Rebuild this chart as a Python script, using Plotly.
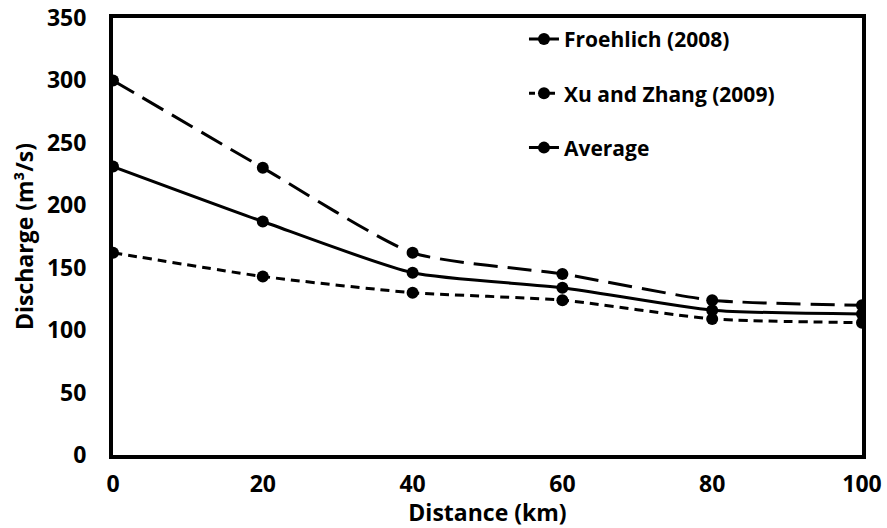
import plotly.graph_objects as go

distance = [0, 20, 40, 60, 80, 100]
froehlich = [300, 230, 162, 145, 124, 120]
xu_zhang = [162, 143, 130, 124, 109, 106]
average = [231, 187, 146, 134, 116, 113]

x_ticks = [0, 20, 40, 60, 80, 100]
y_ticks = [0, 50, 100, 150, 200, 250, 300, 350]

FONT = "Open Sans"
fig = go.Figure()

marker = dict(symbol="circle", size=12, color="black")

fig.add_trace(go.Scatter(x=distance, y=froehlich, mode="lines+markers", line=dict(color="black", width=3, dash="24px,10px", shape="spline", smoothing=0.6),
                         marker=marker, showlegend=False, name="Froehlich (2008)"))
fig.add_trace(go.Scatter(x=distance, y=xu_zhang, mode="lines+markers", line=dict(color="black", width=3, dash="9px,6px", shape="spline", smoothing=0.6),
                         marker=marker, showlegend=False, name="Xu and Zhang (2009)"))
fig.add_trace(go.Scatter(x=distance, y=average, mode="lines+markers", line=dict(color="black", width=3, shape="spline", smoothing=0.6),
                         marker=marker, showlegend=False, name="Average"))

# legend entries (as drawn in the reference legend)
fig.add_trace(go.Scatter(x=[None], y=[None], mode="lines+markers", line=dict(color="black", width=3),
                         marker=marker, name="Froehlich (2008)", legendgroup="a"))
fig.add_trace(go.Scatter(x=[None], y=[None], mode="lines+markers", line=dict(color="black", width=3, dash="6px,4px"),
                         marker=marker, name="Xu and Zhang (2009)", legendgroup="b"))
fig.add_trace(go.Scatter(x=[None], y=[None], mode="lines+markers", line=dict(color="black", width=3),
                         marker=marker, name="Average", legendgroup="c"))

tick_font = dict(family=FONT, size=23, color="black", weight="bold")
title_font = dict(family=FONT, size=23, color="black", weight="bold")

fig.update_layout(
    width=887, height=528,
    margin=dict(l=113, r=25, t=18, b=73),
    paper_bgcolor="white", plot_bgcolor="white",
    font=dict(family=FONT, color="black"),
    legend=dict(x=0.5487, y=0.998, xanchor="left", yanchor="top", bgcolor="rgba(0,0,0,0)",
                font=dict(family=FONT, size=21, color="black", weight="bold"),
                traceorder="grouped", tracegroupgap=24),
    xaxis=dict(range=[0, 100], tickvals=x_ticks, ticktext=[str(v) for v in x_ticks],
               showgrid=False, zeroline=False, showline=True, linewidth=4, linecolor="black", mirror=True,
               ticks="", ticklabelstandoff=5, tickfont=tick_font, automargin=False,
               title=dict(text="Distance (km)", font=title_font, standoff=1)),
    yaxis=dict(range=[0, 350], tickvals=y_ticks, ticktext=[str(v) for v in y_ticks],
               showgrid=False, zeroline=False, showline=True, linewidth=4, linecolor="black", mirror=True,
               ticks="", ticklabelstandoff=18, tickfont=tick_font, automargin=False,
               title=dict(text="Discharge (m³/s)", font=title_font, standoff=8)),
)

fig.write_html(
    "out.html",
    config={"displayModeBar": False},
    post_script="document.body.style.margin='0';document.documentElement.style.overflow='hidden';",
)
